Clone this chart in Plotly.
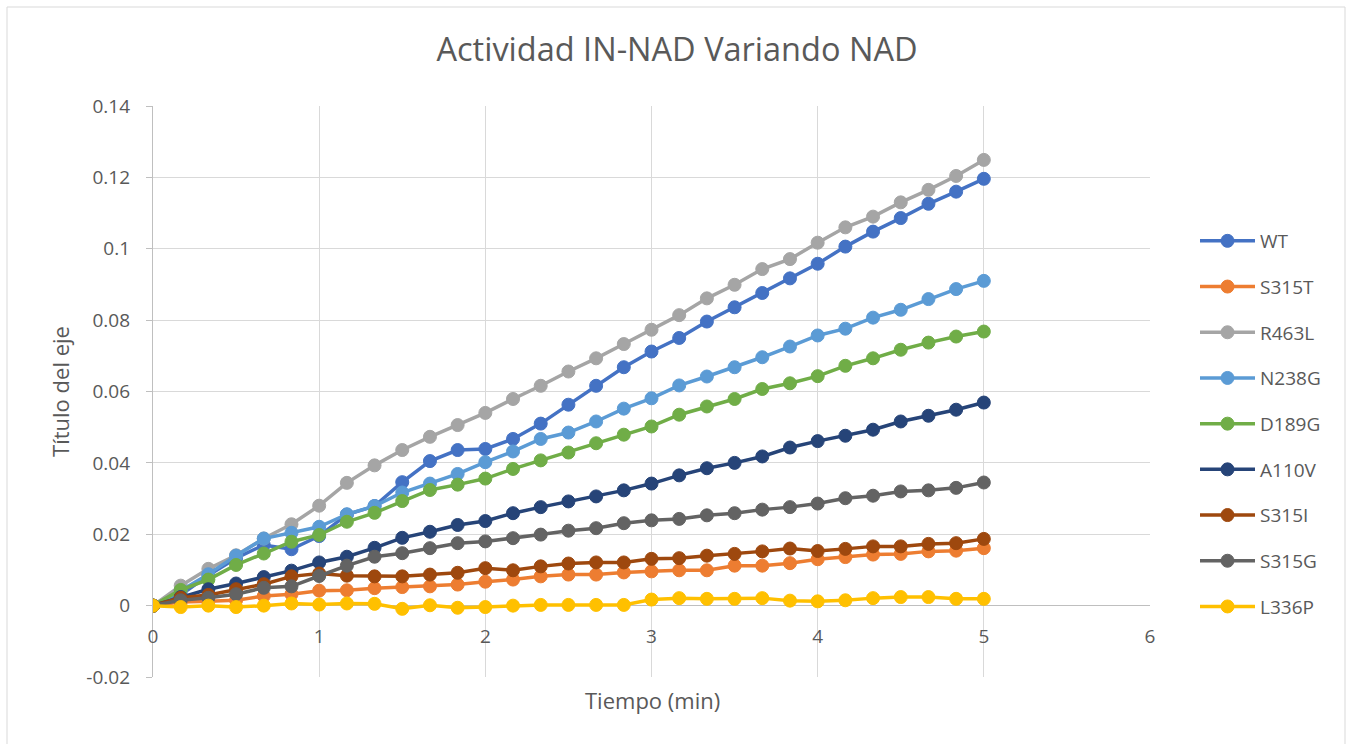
import plotly.graph_objects as go

tiempo = [0, 0.1667, 0.3333, 0.5, 0.6667, 0.8333, 1, 1.1667, 1.3333, 1.5, 1.6667, 1.8333,
          2, 2.1667, 2.3333, 2.5, 2.6667, 2.8333, 3, 3.1667, 3.3333, 3.5, 3.6667, 3.8333,
          4, 4.1667, 4.3333, 4.5, 4.6667, 4.8333, 5]

WT = [0, 0.003, 0.0085, 0.0133, 0.017, 0.0158, 0.0195, 0.0255, 0.0279, 0.0346, 0.0405, 0.0436,
      0.0439, 0.0467, 0.051, 0.0563, 0.0616, 0.0668, 0.0712, 0.075, 0.0796, 0.0836, 0.0876, 0.0917,
      0.0958, 0.1006, 0.1048, 0.1086, 0.1126, 0.116, 0.1196]
S315T = [0, 0.001, 0.0012, 0.0015, 0.0027, 0.0032, 0.0042, 0.0043, 0.0049, 0.0052, 0.0054, 0.0059,
         0.0067, 0.0073, 0.0082, 0.0087, 0.0087, 0.0093, 0.0096, 0.0099, 0.0099, 0.0112, 0.0112, 0.0119,
         0.013, 0.0136, 0.0143, 0.0145, 0.0152, 0.0154, 0.0161]
R463L = [0, 0.0056, 0.0103, 0.0141, 0.0188, 0.0228, 0.028, 0.0344, 0.0393, 0.0436, 0.0473, 0.0506,
         0.054, 0.0579, 0.0616, 0.0656, 0.0693, 0.0733, 0.0773, 0.0814, 0.0861, 0.0899, 0.0943, 0.0971,
         0.1017, 0.106, 0.109, 0.113, 0.1165, 0.1204, 0.1249]
N238G = [0, 0.0042, 0.0088, 0.014, 0.0188, 0.0204, 0.0221, 0.0256, 0.0279, 0.0317, 0.0342, 0.0369,
         0.0402, 0.0432, 0.0467, 0.0485, 0.0516, 0.0552, 0.0581, 0.0617, 0.0642, 0.0668, 0.0696, 0.0726,
         0.0757, 0.0776, 0.0807, 0.0829, 0.0859, 0.0887, 0.091]
D189G = [0, 0.0044, 0.0073, 0.0114, 0.0146, 0.0179, 0.0198, 0.0235, 0.026, 0.0293, 0.0324, 0.0339,
         0.0356, 0.0383, 0.0407, 0.0429, 0.0455, 0.0479, 0.0502, 0.0535, 0.0558, 0.0579, 0.0607, 0.0623,
         0.0643, 0.0672, 0.0693, 0.0717, 0.0737, 0.0754, 0.0768]
A110V = [0, 0.0024, 0.0046, 0.0062, 0.008, 0.0098, 0.0121, 0.0137, 0.0162, 0.019, 0.0207, 0.0226,
         0.0237, 0.0259, 0.0276, 0.0292, 0.0306, 0.0323, 0.0342, 0.0365, 0.0385, 0.04, 0.0418, 0.0443,
         0.0461, 0.0476, 0.0493, 0.0516, 0.0532, 0.0549, 0.0569]
S315I = [0, 0.0022, 0.003, 0.0046, 0.006, 0.0082, 0.009, 0.0084, 0.0082, 0.0082, 0.0087, 0.0092,
         0.0105, 0.0099, 0.011, 0.0118, 0.0121, 0.0121, 0.0131, 0.0133, 0.014, 0.0145, 0.0152, 0.016,
         0.0153, 0.0159, 0.0166, 0.0166, 0.0173, 0.0175, 0.0187]
S315G = [0, 0.0015, 0.0022, 0.0032, 0.005, 0.0054, 0.0083, 0.0112, 0.0137, 0.0147, 0.0161, 0.0175,
         0.018, 0.0189, 0.0199, 0.021, 0.0217, 0.0231, 0.0239, 0.0243, 0.0253, 0.0259, 0.0269, 0.0276,
         0.0286, 0.0301, 0.0308, 0.032, 0.0323, 0.033, 0.0345]
L336P = [0, -0.0004, 0, -0.0004, 0, 0.0006, 0.0003, 0.0006, 0.0005, -0.0009, 0.0001, -0.0006,
         -0.0004, 0, 0.0002, 0.0002, 0.0002, 0.0002, 0.0017, 0.0021, 0.0019, 0.0019, 0.0021, 0.0014,
         0.0012, 0.0015, 0.0021, 0.0024, 0.0024, 0.0019, 0.0019]

series_names = ["WT", "S315T", "R463L", "N238G", "D189G", "A110V", "S315I", "S315G", "L336P"]
series_values = [WT, S315T, R463L, N238G, D189G, A110V, S315I, S315G, L336P]
series_colors = ["#4472C4", "#ED7D31", "#A5A5A5", "#5B9BD5", "#70AD47", "#264478",
                 "#9E480E", "#636363", "#FFC000"]

y_tickvals = [-0.02, 0, 0.02, 0.04, 0.06, 0.08, 0.1, 0.12, 0.14]
y_ticktext = ["-0.02", "0", "0.02", "0.04", "0.06", "0.08", "0.1", "0.12", "0.14"]
x_tickvals = [0, 1, 2, 3, 4, 5, 6]

FONT = "Open Sans"
TXT = "#595959"

fig = go.Figure()
for name, vals, col in zip(series_names, series_values, series_colors):
    fig.add_trace(go.Scatter(
        x=tiempo, y=vals, name=name, mode="lines+markers",
        line=dict(color=col, width=3.5),
        marker=dict(color=col, size=13, line=dict(color=col, width=1)),
        legendgroup=name,
    ))

W, H = 1349, 744
L, R, T, B = 153, 199, 106, 67
pw, ph = W - L - R, H - T - B

def px_x(p):
    return (p - L) / pw

def px_y(p):
    return (H - B - p) / ph

fig.update_layout(
    width=W, height=H,
    margin=dict(l=L, r=R, t=T, b=B),
    paper_bgcolor="white", plot_bgcolor="white",
    font=dict(family=FONT, color=TXT, size=20),
    title=dict(text="Actividad IN-NAD Variando NAD", x=677 / W, xref="container",
               xanchor="center", y=1 - 50 / H, yanchor="middle",
               font=dict(size=32.5, color=TXT, family=FONT)),
    showlegend=True,
    legend=dict(x=px_x(1195), y=px_y(222), xanchor="left", yanchor="top",
                font=dict(size=19, color=TXT, family=FONT), tracegroupgap=18,
                itemwidth=55, bgcolor="rgba(0,0,0,0)"),
    xaxis=dict(range=[0, 6], tickvals=x_tickvals, showgrid=True, gridcolor="#D9D9D9",
               gridwidth=1, zeroline=False, showline=False, anchor="free",
               position=(0 - (-0.02)) / 0.16, ticks="", tickfont=dict(size=19, color=TXT),
               ticklabelstandoff=17),
    yaxis=dict(range=[-0.02, 0.14], tickvals=y_tickvals, ticktext=y_ticktext,
               showgrid=True, gridcolor="#D9D9D9", gridwidth=1,
               zeroline=True, zerolinecolor="#BFBFBF", zerolinewidth=1.3,
               showline=True, linecolor="#BFBFBF", linewidth=1.3,
               ticks="outside", ticklen=6, tickcolor="#BFBFBF",
               tickfont=dict(size=19, color=TXT), ticklabelstandoff=12,
               title=dict(text="Título del eje", font=dict(size=22, color=TXT), standoff=10)),
    annotations=[dict(text="Tiempo (min)", xref="paper", yref="paper",
                      x=px_x(652), y=px_y(700), xanchor="center", yanchor="middle",
                      showarrow=False, font=dict(size=22, color=TXT, family=FONT))],
    shapes=[dict(type="rect", xref="paper", yref="paper",
                 x0=px_x(7), x1=px_x(1345), y0=px_y(760), y1=px_y(7),
                 line=dict(color="#D9D9D9", width=1), fillcolor="rgba(0,0,0,0)", layer="below")],
)

fig.write_html("out.html")
